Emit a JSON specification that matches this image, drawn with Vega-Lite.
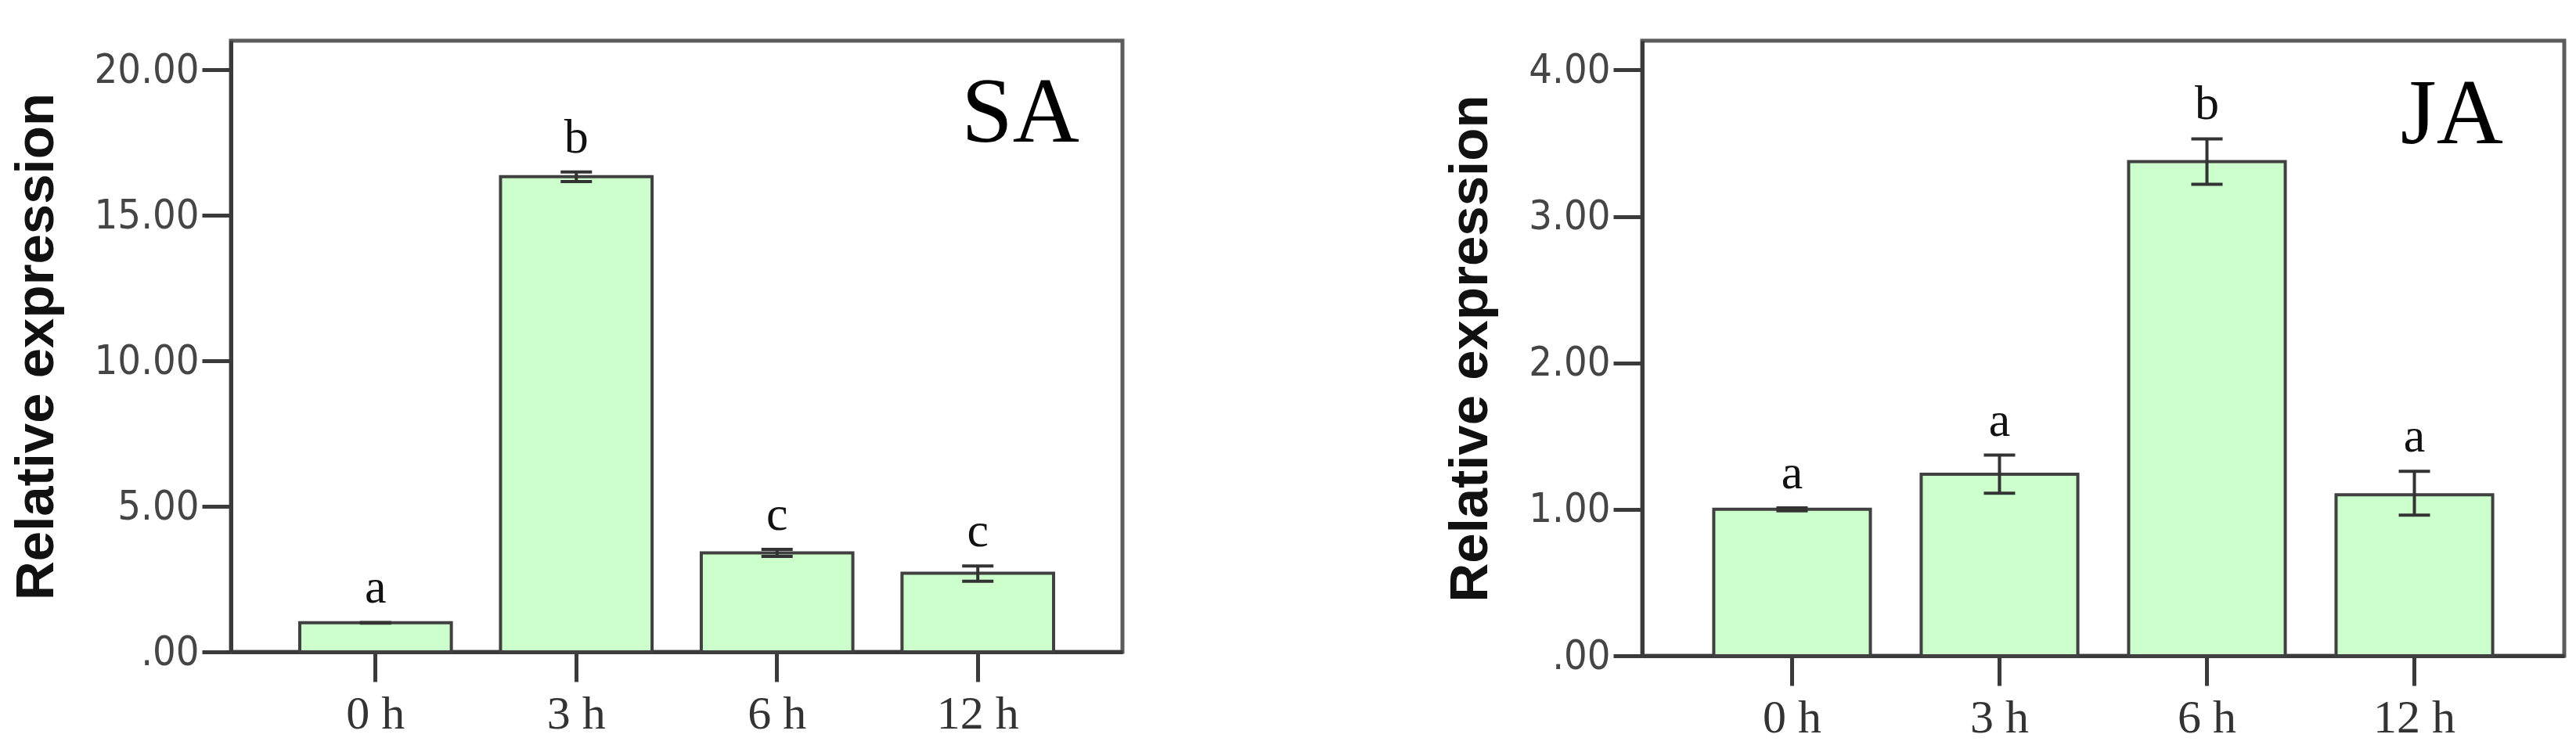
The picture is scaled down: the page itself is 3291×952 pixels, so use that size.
{
  "$schema": "https://vega.github.io/schema/vega-lite/v6.json",
  "padding": {"left": 9, "top": 49, "right": 5, "bottom": 5},
  "spacing": 405,
  "background": "white",
  "config": {
    "view": {"stroke": "#5c5c5c", "strokeWidth": 5},
    "axis": {"grid": false, "domainColor": "#3a3a3a", "domainWidth": 5, "tickColor": "#3a3a3a", "tickWidth": 5},
    "axisY": {
      "tickSize": 37, "labelPadding": 4,
      "labelFont": "Liberation Sans Narrow, DejaVu Sans Condensed, sans-serif", "labelFontSize": 52, "labelColor": "#454545",
      "titleFont": "Liberation Sans", "titleFontWeight": "bold", "titleFontSize": 69, "titleColor": "#111111", "titlePadding": 39,
      "labelExpr": "datum.value == 0 ? '.00' : format(datum.value, '.2f')"
    },
    "axisX": {
      "tickSize": 38, "labelPadding": 12, "labelAngle": 0,
      "labelFont": "Liberation Serif", "labelFontSize": 60, "labelColor": "#333333"
    },
    "text": {"font": "Liberation Serif", "fontSize": 62, "color": "#111111"}
  },
  "hconcat": [
    {
      "width": 1139, "height": 781,
      "title": {"text": "SA", "orient": "top", "anchor": "end", "frame": "group", "offset": -247, "dx": -55, "font": "Liberation Serif", "fontSize": 118, "fontWeight": "normal", "color": "#000000", "baseline": "alphabetic"},
      "data": {"values": [
        {"time": "0 h", "mean": 1.0, "lower": 0.99, "upper": 1.01, "letter": "a"},
        {"time": "3 h", "mean": 16.33, "lower": 16.16, "upper": 16.49, "letter": "b"},
        {"time": "6 h", "mean": 3.40, "lower": 3.28, "upper": 3.52, "letter": "c"},
        {"time": "12 h", "mean": 2.70, "lower": 2.43, "upper": 2.95, "letter": "c"}
      ]},
      "encoding": {
        "x": {"field": "time", "type": "nominal", "sort": ["0 h", "3 h", "6 h", "12 h"], "scale": {"paddingInner": 0.245, "paddingOuter": 0.343}, "axis": {"title": null}}
      },
      "layer": [
        {"mark": {"type": "bar", "fill": "#ccffcc", "stroke": "#404040", "strokeWidth": 4},
         "encoding": {"y": {"field": "mean", "type": "quantitative", "scale": {"domain": [0, 21], "nice": false, "zero": true}, "axis": {"values": [0, 5, 10, 15, 20], "title": "Relative expression"}}}},
        {"mark": {"type": "rule", "stroke": "#333333", "strokeWidth": 4},
         "encoding": {"y": {"field": "lower", "type": "quantitative"}, "y2": {"field": "upper"}}},
        {"mark": {"type": "tick", "color": "#333333", "thickness": 4, "size": 40, "opacity": 1},
         "encoding": {"y": {"field": "lower", "type": "quantitative"}}},
        {"mark": {"type": "tick", "color": "#333333", "thickness": 4, "size": 40, "opacity": 1},
         "encoding": {"y": {"field": "upper", "type": "quantitative"}}},
        {"mark": {"type": "text", "dy": -25, "baseline": "alphabetic"},
         "encoding": {"y": {"field": "upper", "type": "quantitative"}, "text": {"field": "letter"}}}
      ]
    },
    {
      "width": 1178, "height": 786,
      "title": {"text": "JA", "orient": "top", "anchor": "end", "frame": "group", "offset": -249, "dx": -78, "font": "Liberation Serif", "fontSize": 118, "fontWeight": "normal", "color": "#000000", "baseline": "alphabetic"},
      "data": {"values": [
        {"time": "0 h", "mean": 1.0, "lower": 0.99, "upper": 1.01, "letter": "a"},
        {"time": "3 h", "mean": 1.24, "lower": 1.11, "upper": 1.37, "letter": "a"},
        {"time": "6 h", "mean": 3.375, "lower": 3.22, "upper": 3.53, "letter": "b"},
        {"time": "12 h", "mean": 1.10, "lower": 0.96, "upper": 1.26, "letter": "a"}
      ]},
      "encoding": {
        "x": {"field": "time", "type": "nominal", "sort": ["0 h", "3 h", "6 h", "12 h"], "scale": {"paddingInner": 0.245, "paddingOuter": 0.345}, "axis": {"title": null}}
      },
      "layer": [
        {"mark": {"type": "bar", "fill": "#ccffcc", "stroke": "#404040", "strokeWidth": 4},
         "encoding": {"y": {"field": "mean", "type": "quantitative", "scale": {"domain": [0, 4.2], "nice": false, "zero": true}, "axis": {"values": [0, 1, 2, 3, 4], "title": "Relative expression"}}}},
        {"mark": {"type": "rule", "stroke": "#333333", "strokeWidth": 4},
         "encoding": {"y": {"field": "lower", "type": "quantitative"}, "y2": {"field": "upper"}}},
        {"mark": {"type": "tick", "color": "#333333", "thickness": 4, "size": 40, "opacity": 1},
         "encoding": {"y": {"field": "lower", "type": "quantitative"}}},
        {"mark": {"type": "tick", "color": "#333333", "thickness": 4, "size": 40, "opacity": 1},
         "encoding": {"y": {"field": "upper", "type": "quantitative"}}},
        {"mark": {"type": "text", "dy": -25, "baseline": "alphabetic"},
         "encoding": {"y": {"field": "upper", "type": "quantitative"}, "text": {"field": "letter"}}}
      ]
    }
  ]
}
